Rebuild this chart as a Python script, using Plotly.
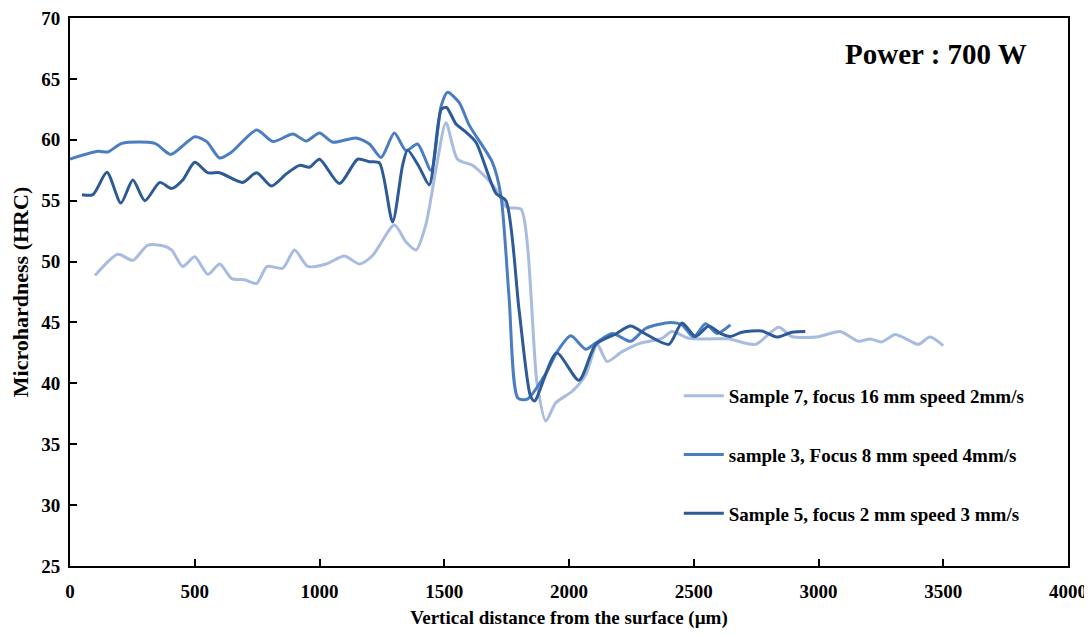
import plotly.graph_objects as go

# Sample 7, focus 16 mm speed 2mm/s
s7_x = [100, 192, 252, 312, 372, 407, 452, 500, 552, 600, 648, 700, 748, 790, 853, 900, 953,
        1027, 1100, 1160, 1213, 1300, 1347, 1387, 1427, 1467, 1507, 1553, 1613, 1667, 1707,
        1747, 1768, 1808, 1872, 1907, 1947, 2013, 2067, 2113, 2153, 2213, 2287, 2373, 2413,
        2480, 2560, 2640, 2747, 2840, 2893, 2993, 3087, 3160, 3207, 3253, 3307, 3347, 3400,
        3447, 3500]
s7_y = [48.85, 50.6, 50.1, 51.35, 51.3, 50.95, 49.6, 50.4, 48.95, 49.8, 48.6, 48.5, 48.2, 49.6,
        49.45, 50.95, 49.6, 49.8, 50.45, 49.8, 50.5, 53.0, 51.6, 50.95, 53.1, 57.6, 61.4, 58.4,
        57.9, 56.9, 55.95, 54.5, 54.4, 54.3, 40.0, 36.9, 38.4, 39.35, 40.7, 43.2, 41.8, 42.6,
        43.3, 43.7, 44.25, 43.7, 43.65, 43.65, 43.2, 44.6, 43.85, 43.8, 44.25, 43.45, 43.65,
        43.4, 44.0, 43.7, 43.2, 43.8, 43.1]

# sample 3, Focus 8 mm speed 4mm/s
s3_x = [0, 112, 152, 208, 340, 404, 500, 548, 600, 648, 748, 813, 893, 947, 1000, 1053, 1147,
        1200, 1247, 1300, 1347, 1393, 1447, 1488, 1513, 1560, 1600, 1693, 1727, 1760, 1795,
        1833, 1907, 1953, 2007, 2067, 2107, 2173, 2247, 2307, 2407, 2453, 2500, 2547, 2593,
        2647]
s3_y = [58.42, 59.05, 59.0, 59.7, 59.7, 58.8, 60.25, 59.85, 58.5, 59.0, 60.8, 59.85, 60.47,
        59.9, 60.55, 59.8, 60.15, 59.65, 58.55, 60.55, 59.1, 59.65, 57.5, 62.8, 63.9, 63.05,
        61.2, 58.15, 55.45, 47.0, 38.8, 38.7, 40.8, 42.6, 43.9, 42.8, 43.3, 44.1, 43.45, 44.5,
        45.0, 44.8, 43.8, 44.9, 44.1, 44.8]

# Sample 5, focus 2 mm speed 3 mm/s
s5_x = [48, 92, 148, 204, 252, 300, 360, 407, 452, 500, 552, 600, 692, 748, 807, 867, 920, 960,
        1000, 1080, 1153, 1200, 1240, 1293, 1333, 1353, 1400, 1440, 1488, 1509, 1547, 1580,
        1627, 1707, 1747, 1800, 1845, 1862, 1950, 2040, 2107, 2187, 2247, 2307, 2400, 2453,
        2507, 2560, 2607, 2647, 2693, 2773, 2833, 2893, 2947]
s5_y = [55.48, 55.5, 57.33, 54.8, 56.7, 55.0, 56.5, 56.0, 56.7, 58.15, 57.3, 57.3, 56.5, 57.3,
        56.2, 57.2, 57.9, 57.75, 58.4, 56.4, 58.4, 58.2, 58.1, 53.25, 57.9, 59.15, 57.75, 56.3,
        62.5, 62.65, 61.3, 60.75, 59.8, 55.6, 55.0, 46.0, 39.0, 38.55, 42.5, 40.25, 43.2,
        44.05, 44.7, 44.05, 43.2, 44.95, 43.85, 44.7, 44.1, 43.85, 44.2, 44.3, 43.8, 44.2,
        44.25]

names = ["Sample 7, focus 16 mm speed 2mm/s",
         "sample 3, Focus 8 mm speed 4mm/s",
         "Sample 5, focus 2 mm speed 3 mm/s"]
colors = ["#A7BCDF", "#4A7DC2", "#2E5B98"]

x_ticks = [0, 500, 1000, 1500, 2000, 2500, 3000, 3500, 4000]
y_ticks = [25, 30, 35, 40, 45, 50, 55, 60, 65, 70]

FONT = "Liberation Serif"

fig = go.Figure()
for i, (xs, ys) in enumerate([(s7_x, s7_y), (s3_x, s3_y), (s5_x, s5_y)]):
    fig.add_trace(go.Scatter(
        x=xs, y=ys, mode="lines", name=names[i], legendgroup=f"g{i}",
        line=dict(color=colors[i], width=3, shape="spline", smoothing=0.7),
    ))

fig.update_layout(
    width=1084, height=627,
    margin=dict(l=62, r=24, t=10, b=69),
    paper_bgcolor="white", plot_bgcolor="white",
    font=dict(family=FONT, color="black"),
    showlegend=True,
    legend=dict(
        x=0.61, y=0.345, xanchor="left", yanchor="top",
        font=dict(family=FONT, size=19, color="black", weight="bold"),
        tracegroupgap=31, bgcolor="rgba(0,0,0,0)", itemwidth=40,
    ),
    annotations=[dict(
        text="<b>Power : 700 W</b>", x=0.868, y=0.935, xref="paper", yref="paper",
        xanchor="center", yanchor="middle", showarrow=False,
        font=dict(family=FONT, size=29, color="black"),
    )],
)

fig.update_xaxes(
    range=[0, 4000], tickvals=x_ticks, ticktext=[str(v) for v in x_ticks],
    showgrid=False, zeroline=False, showline=True, linecolor="black", linewidth=2,
    mirror=True, ticks="inside", ticklen=7, tickcolor="black", tickwidth=1.5,
    tickfont=dict(family=FONT, size=19, color="black", weight="bold"),
    ticklabelstandoff=7, automargin=False, ticklabeloverflow="allow",
    title=dict(text="<b>Vertical distance from the surface (µm)</b>",
               font=dict(family=FONT, size=19, color="black"), standoff=10),
)
fig.update_yaxes(
    range=[25, 70], tickvals=y_ticks, ticktext=[str(v) for v in y_ticks],
    showgrid=False, zeroline=False, showline=True, linecolor="black", linewidth=2,
    mirror=True, ticks="inside", ticklen=7, tickcolor="black", tickwidth=1.5,
    tickfont=dict(family=FONT, size=19, color="black", weight="bold"),
    ticklabelstandoff=4, automargin=False, ticklabeloverflow="allow",
    title=dict(text="<b>Microhardness (HRC)</b>",
               font=dict(family=FONT, size=22, color="black"), standoff=10),
)

fig.write_html("out.html")
